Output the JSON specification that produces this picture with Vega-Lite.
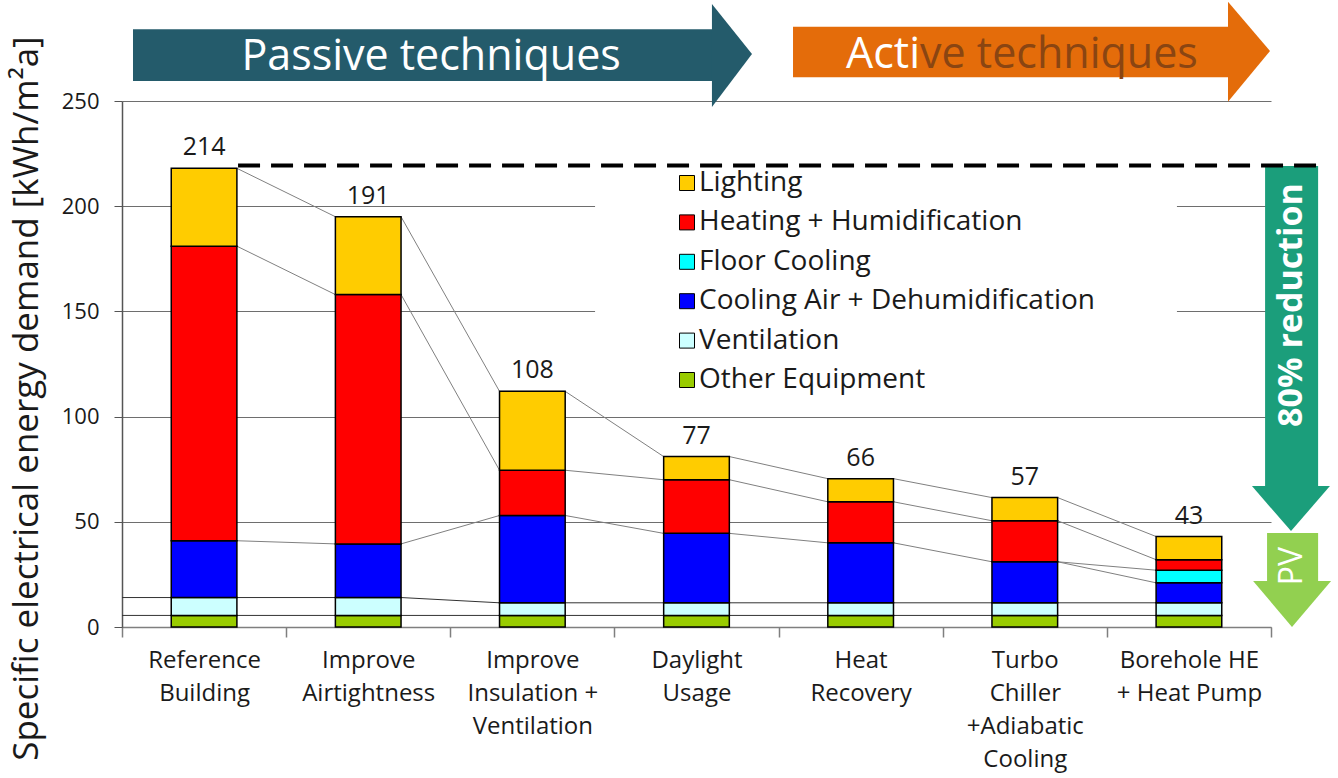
{
  "$schema": "https://vega.github.io/schema/vega-lite/v6.json",
  "width": 1149,
  "height": 526,
  "autosize": {"type": "none"},
  "padding": {"left": 122, "top": 101, "right": 67, "bottom": 151},
  "config": {
    "view": {"stroke": null},
    "font": "Open Sans",
    "axisY": {
      "titleFont": "Open Sans", "titleFontSize": 35, "titleFontWeight": "normal", "titleColor": "#1a1a1a",
      "titleAngle": 270, "titleX": -85, "titleY": 297, "titleAlign": "center", "titleBaseline": "alphabetic",
      "tickCount": 5,
      "grid": true, "gridColor": "#6e6e6e", "gridWidth": 1,
      "domainColor": "#555555", "domainWidth": 1.5, "tickColor": "#555555", "tickSize": 8,
      "labelFont": "Open Sans", "labelFontSize": 22, "labelColor": "#1a1a1a", "labelPadding": 15
    },
    "axisX": {
      "tickBand": "extent", "tickSize": 10, "tickColor": "#7f7f7f", "tickWidth": 1.5,
      "domainColor": "#7f7f7f", "domainWidth": 1.5, "grid": false,
      "labelExpr": "split(datum.label, '\\n')",
      "labelFont": "Open Sans", "labelFontSize": 24, "labelLineHeight": 33, "labelPadding": 11,
      "labelAngle": 0, "labelColor": "#1a1a1a", "labelLimit": 400, "labelOverlap": false
    }
  },
  "datasets": {
    "bars": [
      {"cat": "Reference\nBuilding", "comp": "Other Equipment", "value": 5.5, "rank": 1, "label": 214},
      {"cat": "Reference\nBuilding", "comp": "Ventilation", "value": 8.5, "rank": 2, "label": 214},
      {"cat": "Reference\nBuilding", "comp": "Cooling Air + Dehumidification", "value": 27, "rank": 3, "label": 214},
      {"cat": "Reference\nBuilding", "comp": "Heating + Humidification", "value": 140, "rank": 5, "label": 214},
      {"cat": "Reference\nBuilding", "comp": "Lighting", "value": 37, "rank": 6, "label": 214},
      {"cat": "Improve\nAirtightness", "comp": "Other Equipment", "value": 5.5, "rank": 1, "label": 191},
      {"cat": "Improve\nAirtightness", "comp": "Ventilation", "value": 8.5, "rank": 2, "label": 191},
      {"cat": "Improve\nAirtightness", "comp": "Cooling Air + Dehumidification", "value": 25.5, "rank": 3, "label": 191},
      {"cat": "Improve\nAirtightness", "comp": "Heating + Humidification", "value": 118.5, "rank": 5, "label": 191},
      {"cat": "Improve\nAirtightness", "comp": "Lighting", "value": 37, "rank": 6, "label": 191},
      {"cat": "Improve\nInsulation +\nVentilation", "comp": "Other Equipment", "value": 5.5, "rank": 1, "label": 108},
      {"cat": "Improve\nInsulation +\nVentilation", "comp": "Ventilation", "value": 6, "rank": 2, "label": 108},
      {"cat": "Improve\nInsulation +\nVentilation", "comp": "Cooling Air + Dehumidification", "value": 41.5, "rank": 3, "label": 108},
      {"cat": "Improve\nInsulation +\nVentilation", "comp": "Heating + Humidification", "value": 21.5, "rank": 5, "label": 108},
      {"cat": "Improve\nInsulation +\nVentilation", "comp": "Lighting", "value": 37.5, "rank": 6, "label": 108},
      {"cat": "Daylight\nUsage", "comp": "Other Equipment", "value": 5.5, "rank": 1, "label": 77},
      {"cat": "Daylight\nUsage", "comp": "Ventilation", "value": 6, "rank": 2, "label": 77},
      {"cat": "Daylight\nUsage", "comp": "Cooling Air + Dehumidification", "value": 33, "rank": 3, "label": 77},
      {"cat": "Daylight\nUsage", "comp": "Heating + Humidification", "value": 25.5, "rank": 5, "label": 77},
      {"cat": "Daylight\nUsage", "comp": "Lighting", "value": 11, "rank": 6, "label": 77},
      {"cat": "Heat\nRecovery", "comp": "Other Equipment", "value": 5.5, "rank": 1, "label": 66},
      {"cat": "Heat\nRecovery", "comp": "Ventilation", "value": 6, "rank": 2, "label": 66},
      {"cat": "Heat\nRecovery", "comp": "Cooling Air + Dehumidification", "value": 28.5, "rank": 3, "label": 66},
      {"cat": "Heat\nRecovery", "comp": "Heating + Humidification", "value": 19.5, "rank": 5, "label": 66},
      {"cat": "Heat\nRecovery", "comp": "Lighting", "value": 11, "rank": 6, "label": 66},
      {"cat": "Turbo\nChiller\n+Adiabatic\nCooling", "comp": "Other Equipment", "value": 5.5, "rank": 1, "label": 57},
      {"cat": "Turbo\nChiller\n+Adiabatic\nCooling", "comp": "Ventilation", "value": 6, "rank": 2, "label": 57},
      {"cat": "Turbo\nChiller\n+Adiabatic\nCooling", "comp": "Cooling Air + Dehumidification", "value": 19.5, "rank": 3, "label": 57},
      {"cat": "Turbo\nChiller\n+Adiabatic\nCooling", "comp": "Heating + Humidification", "value": 19.5, "rank": 5, "label": 57},
      {"cat": "Turbo\nChiller\n+Adiabatic\nCooling", "comp": "Lighting", "value": 11, "rank": 6, "label": 57},
      {"cat": "Borehole HE\n+ Heat Pump", "comp": "Other Equipment", "value": 5.5, "rank": 1, "label": 43},
      {"cat": "Borehole HE\n+ Heat Pump", "comp": "Ventilation", "value": 6, "rank": 2, "label": 43},
      {"cat": "Borehole HE\n+ Heat Pump", "comp": "Cooling Air + Dehumidification", "value": 9.5, "rank": 3, "label": 43},
      {"cat": "Borehole HE\n+ Heat Pump", "comp": "Floor Cooling", "value": 6, "rank": 4, "label": 43},
      {"cat": "Borehole HE\n+ Heat Pump", "comp": "Heating + Humidification", "value": 5, "rank": 5, "label": 43},
      {"cat": "Borehole HE\n+ Heat Pump", "comp": "Lighting", "value": 11, "rank": 6, "label": 43}
    ],
    "links": [
      {"s": "T", "x": 0.7, "y": 218}, {"s": "T", "x": 1.3, "y": 195}, {"s": "T", "x": 1.7, "y": 195},
      {"s": "T", "x": 2.3, "y": 112}, {"s": "T", "x": 2.7, "y": 112}, {"s": "T", "x": 3.3, "y": 81},
      {"s": "T", "x": 3.7, "y": 81}, {"s": "T", "x": 4.3, "y": 70.5}, {"s": "T", "x": 4.7, "y": 70.5},
      {"s": "T", "x": 5.3, "y": 61.5}, {"s": "T", "x": 5.7, "y": 61.5}, {"s": "T", "x": 6.3, "y": 43},
      {"s": "H", "x": 0.7, "y": 181}, {"s": "H", "x": 1.3, "y": 158}, {"s": "H", "x": 1.7, "y": 158},
      {"s": "H", "x": 2.3, "y": 74.5}, {"s": "H", "x": 2.7, "y": 74.5}, {"s": "H", "x": 3.3, "y": 70},
      {"s": "H", "x": 3.7, "y": 70}, {"s": "H", "x": 4.3, "y": 59.5}, {"s": "H", "x": 4.7, "y": 59.5},
      {"s": "H", "x": 5.3, "y": 50.5}, {"s": "H", "x": 5.7, "y": 50.5}, {"s": "H", "x": 6.3, "y": 32},
      {"s": "C", "x": 0.7, "y": 41}, {"s": "C", "x": 1.3, "y": 39.5}, {"s": "C", "x": 1.7, "y": 39.5},
      {"s": "C", "x": 2.3, "y": 53}, {"s": "C", "x": 2.7, "y": 53}, {"s": "C", "x": 3.3, "y": 44.5},
      {"s": "C", "x": 3.7, "y": 44.5}, {"s": "C", "x": 4.3, "y": 40}, {"s": "C", "x": 4.7, "y": 40},
      {"s": "C", "x": 5.3, "y": 31}, {"s": "C", "x": 5.7, "y": 31}, {"s": "C", "x": 6.3, "y": 27},
      {"s": "A", "x": 5.7, "y": 31}, {"s": "A", "x": 6.3, "y": 21}
    ],
    "baselinks": [
      {"s": "V", "x": 0, "y": 14}, {"s": "V", "x": 1.7, "y": 14}, {"s": "V", "x": 2.3, "y": 11.5}, {"s": "V", "x": 6.3, "y": 11.5},
      {"s": "O", "x": 0, "y": 5.5}, {"s": "O", "x": 6.3, "y": 5.5}
    ],
    "bodies": [
      {"arrow": "passive", "x": 0.067, "x2": 3.6, "y": 259.5, "y2": 284.1},
      {"arrow": "active", "x": 4.088, "x2": 6.744, "y": 261.3, "y2": 285.3},
      {"arrow": "reduction", "x": 6.964, "x2": 7.287, "y": 66.7, "y2": 219.1},
      {"arrow": "pv", "x": 6.976, "x2": 7.287, "y": 21.6, "y2": 44.7}
    ],
    "headsRight": [
      {"arrow": "passive", "x": 3.594, "y": 296.1, "y2": 247.1},
      {"arrow": "passive", "x": 3.838, "y": 272.3, "y2": 272.3},
      {"arrow": "active", "x": 6.738, "y": 297.2, "y2": 249.7},
      {"arrow": "active", "x": 6.994, "y": 273.8, "y2": 273.8}
    ],
    "headsDown": [
      {"arrow": "reduction", "y": 67.0, "x": 6.884, "x2": 7.359},
      {"arrow": "reduction", "y": 45.6, "x": 7.122, "x2": 7.122},
      {"arrow": "pv", "y": 21.9, "x": 6.891, "x2": 7.366},
      {"arrow": "pv", "y": 0, "x": 7.128, "x2": 7.128}
    ]
  },
  "resolve": {"scale": {"x": "independent"}},
  "layer": [
    {
      "layer": [
        {
          "data": {"values": [{"x": 2.882, "x2": 6.427, "y": 107.5, "y2": 217}]},
          "mark": {"type": "rect", "fill": "white"},
          "encoding": {
            "x": {"field": "x", "type": "quantitative", "scale": {"domain": [0, 7], "nice": false, "zero": false}, "axis": null},
            "x2": {"field": "x2"},
            "y": {"field": "y", "type": "quantitative", "scale": {"domain": [0, 250]}, "title": "Specific electrical energy demand [kWh/m²a]", "stack": null},
            "y2": {"field": "y2"}
          }
        },
        {
          "data": {"name": "links"},
          "mark": {"type": "line", "color": "#808080", "strokeWidth": 1},
          "encoding": {
            "x": {"field": "x", "type": "quantitative", "scale": {"domain": [0, 7], "nice": false, "zero": false}, "axis": null},
            "y": {"field": "y", "type": "quantitative", "scale": {"domain": [0, 250]}, "title": "Specific electrical energy demand [kWh/m²a]"},
            "detail": {"field": "s", "type": "nominal"}
          }
        },
        {
          "data": {"name": "baselinks"},
          "mark": {"type": "line", "color": "#333333", "strokeWidth": 1},
          "encoding": {
            "x": {"field": "x", "type": "quantitative", "scale": {"domain": [0, 7], "nice": false, "zero": false}, "axis": null},
            "y": {"field": "y", "type": "quantitative", "scale": {"domain": [0, 250]}, "title": "Specific electrical energy demand [kWh/m²a]"},
            "detail": {"field": "s", "type": "nominal"}
          }
        },
        {
          "data": {"name": "bodies"},
          "mark": {"type": "rect"},
          "encoding": {
            "x": {"field": "x", "type": "quantitative", "scale": {"domain": [0, 7], "nice": false, "zero": false}, "axis": null},
            "x2": {"field": "x2"},
            "y": {"field": "y", "type": "quantitative", "scale": {"domain": [0, 250]}, "title": "Specific electrical energy demand [kWh/m²a]", "stack": null},
            "y2": {"field": "y2"},
            "fill": {"field": "arrow", "type": "nominal", "scale": {"domain": ["passive", "active", "reduction", "pv"], "range": ["#245B6B", "#E46C0A", "#1B9E7B", "#92D050"]}, "legend": null}
          }
        },
        {
          "data": {"name": "headsRight"},
          "mark": {"type": "area", "orient": "vertical"},
          "encoding": {
            "x": {"field": "x", "type": "quantitative", "scale": {"domain": [0, 7], "nice": false, "zero": false}, "axis": null},
            "y": {"field": "y", "type": "quantitative", "scale": {"domain": [0, 250]}, "title": "Specific electrical energy demand [kWh/m²a]", "stack": null},
            "y2": {"field": "y2"},
            "fill": {"field": "arrow", "type": "nominal", "legend": null}
          }
        },
        {
          "data": {"name": "headsDown"},
          "mark": {"type": "area", "orient": "horizontal"},
          "encoding": {
            "y": {"field": "y", "type": "quantitative", "scale": {"domain": [0, 250]}, "title": "Specific electrical energy demand [kWh/m²a]"},
            "x": {"field": "x", "type": "quantitative", "scale": {"domain": [0, 7], "nice": false, "zero": false}, "axis": null, "stack": null},
            "x2": {"field": "x2"},
            "fill": {"field": "arrow", "type": "nominal", "legend": null}
          }
        },
        {
          "data": {"values": [{"x": 0.707, "x2": 7.299, "y": 219.3}]},
          "mark": {"type": "rule", "color": "black", "strokeWidth": 4, "strokeDash": [22, 11]},
          "encoding": {
            "x": {"field": "x", "type": "quantitative", "scale": {"domain": [0, 7], "nice": false, "zero": false}, "axis": null},
            "x2": {"field": "x2"},
            "y": {"field": "y", "type": "quantitative", "scale": {"domain": [0, 250]}, "title": "Specific electrical energy demand [kWh/m²a]"}
          }
        },
        {
          "data": {"values": [{"x": 1.883, "y": 264.7, "t": "Passive techniques"}]},
          "mark": {"type": "text", "font": "Open Sans", "fontSize": 43, "color": "white", "align": "center", "baseline": "alphabetic"},
          "encoding": {
            "x": {"field": "x", "type": "quantitative", "scale": {"domain": [0, 7], "nice": false, "zero": false}, "axis": null},
            "y": {"field": "y", "type": "quantitative", "scale": {"domain": [0, 250]}, "title": "Specific electrical energy demand [kWh/m²a]"},
            "text": {"field": "t", "type": "nominal"}
          }
        },
        {
          "data": {"values": [{"x": 4.862, "y": 265.5, "t": "Acti"}]},
          "mark": {"type": "text", "font": "Open Sans", "fontSize": 43, "color": "white", "align": "right", "baseline": "alphabetic"},
          "encoding": {
            "x": {"field": "x", "type": "quantitative", "scale": {"domain": [0, 7], "nice": false, "zero": false}, "axis": null},
            "y": {"field": "y", "type": "quantitative", "scale": {"domain": [0, 250]}, "title": "Specific electrical energy demand [kWh/m²a]"},
            "text": {"field": "t", "type": "nominal"}
          }
        },
        {
          "data": {"values": [{"x": 4.862, "y": 265.5, "t": "ve techniques"}]},
          "mark": {"type": "text", "font": "Open Sans", "fontSize": 43, "color": "#8a4512", "align": "left", "baseline": "alphabetic"},
          "encoding": {
            "x": {"field": "x", "type": "quantitative", "scale": {"domain": [0, 7], "nice": false, "zero": false}, "axis": null},
            "y": {"field": "y", "type": "quantitative", "scale": {"domain": [0, 250]}, "title": "Specific electrical energy demand [kWh/m²a]"},
            "text": {"field": "t", "type": "nominal"}
          }
        },
        {
          "data": {"values": [{"x": 7.128, "y": 153.0, "t": "80% reduction"}]},
          "mark": {"type": "text", "font": "Open Sans", "fontSize": 34, "fontWeight": "bold", "color": "white", "align": "center", "baseline": "middle", "angle": 270},
          "encoding": {
            "x": {"field": "x", "type": "quantitative", "scale": {"domain": [0, 7], "nice": false, "zero": false}, "axis": null},
            "y": {"field": "y", "type": "quantitative", "scale": {"domain": [0, 250]}, "title": "Specific electrical energy demand [kWh/m²a]"},
            "text": {"field": "t", "type": "nominal"}
          }
        },
        {
          "data": {"values": [{"x": 7.128, "y": 29.0, "t": "PV"}]},
          "mark": {"type": "text", "font": "Open Sans", "fontSize": 32, "color": "white", "align": "center", "baseline": "middle", "angle": 270},
          "encoding": {
            "x": {"field": "x", "type": "quantitative", "scale": {"domain": [0, 7], "nice": false, "zero": false}, "axis": null},
            "y": {"field": "y", "type": "quantitative", "scale": {"domain": [0, 250]}, "title": "Specific electrical energy demand [kWh/m²a]"},
            "text": {"field": "t", "type": "nominal"}
          }
        }
      ]
    },
    {
      "data": {"name": "bars"},
      "layer": [
        {
          "mark": {"type": "bar", "width": {"band": 0.4}, "stroke": "black", "strokeWidth": 1.5},
          "encoding": {
            "x": {"field": "cat", "type": "nominal", "sort": null, "title": null, "scale": {"paddingInner": 0, "paddingOuter": 0}},
            "y": {"field": "value", "type": "quantitative", "stack": "zero", "scale": {"domain": [0, 250]}, "title": "Specific electrical energy demand [kWh/m²a]"},
            "color": {
              "field": "comp", "type": "nominal",
              "scale": {
                "domain": ["Lighting", "Heating + Humidification", "Floor Cooling", "Cooling Air + Dehumidification", "Ventilation", "Other Equipment"],
                "range": ["#FFCC00", "#FF0000", "#00FFFF", "#0000FF", "#CCFFFF", "#99CC00"]
              },
              "legend": {
                "orient": "none", "legendX": 551, "legendY": 68, "title": null,
                "symbolType": "square", "symbolSize": 225, "symbolStrokeColor": "black", "symbolStrokeWidth": 1,
                "labelFont": "Open Sans", "labelFontSize": 28, "labelColor": "#1a1a1a", "labelLimit": 600,
                "rowPadding": 11.4, "labelOffset": -2, "padding": 0
              }
            },
            "order": {"field": "rank", "type": "quantitative"}
          }
        },
        {
          "mark": {"type": "text", "font": "Open Sans", "fontSize": 25, "color": "#1a1a1a", "baseline": "middle", "dy": -21},
          "encoding": {
            "x": {"field": "cat", "type": "nominal", "sort": null, "title": null, "scale": {"paddingInner": 0, "paddingOuter": 0}},
            "y": {"aggregate": "sum", "field": "value", "type": "quantitative", "scale": {"domain": [0, 250]}, "title": "Specific electrical energy demand [kWh/m²a]"},
            "text": {"aggregate": "max", "field": "label", "type": "quantitative"}
          }
        }
      ]
    }
  ]
}
